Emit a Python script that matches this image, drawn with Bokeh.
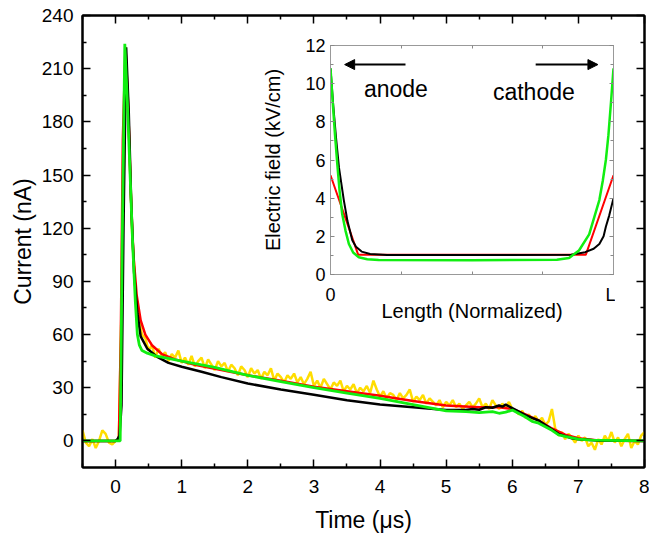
import numpy as np
from bokeh.plotting import figure
from bokeh.models import (Range1d, LinearAxis, FixedTicker, Arrow, NormalHead, Label,
                          CustomJSTickFormatter)
from bokeh.layouts import column
from bokeh.embed import file_html
from bokeh.resources import INLINE

FONT = "Liberation Sans"

# ---------------- main chart data (time in µs, current in nA) ----------------
yellow_y = [
    6, -1, -3, 1, -4, 0, 6, 4, -1, -2, 0,
    1, 95, 212, 178, 118, 86, 69, 60, 58, 51, 54, 47, 52, 48, 50, 45, 49, 47, 51, 44,
    47, 43, 48, 42, 45, 47, 41, 46, 43, 40, 45, 42, 44, 39, 43, 41, 37, 42, 40, 36,
    41, 38, 40, 35, 39, 37, 41, 34, 38, 36, 33, 37, 35, 38, 33, 36, 32, 35, 39, 31,
    34, 30, 35, 32, 29, 33, 31, 34, 28, 31, 29, 32, 27, 30, 28, 31, 27, 34, 29, 25,
    28, 24, 27, 26, 23, 27, 24, 26, 29, 22, 25, 23, 26, 21, 24, 22, 20, 23, 19, 22,
    20, 23, 19, 21, 18, 20, 22, 19, 21, 24, 19, 21, 18, 23, 20, 18, 21, 19, 22, 18,
    17, 15, 17, 13, 15, 12, 14, 11, 13, 9, 11, 18, 7, 3, 5, 1, 4, 2, -1, 3,
    0, 2, -3, -1, -5, 1, -2, 3, 0, 5, -1, 2, -3, 1, 4, -4, 0, -2, 3, 5,
]
yellow_t = list(np.round(np.linspace(-0.5, 8.0, len(yellow_y)), 3))

red_t = [-0.5, 0.0, 0.05, 0.08, 0.11, 0.15, 0.19, 0.23, 0.27, 0.32, 0.38, 0.45, 0.55,
         0.7, 0.9, 1.2, 1.6, 2.0, 2.5, 3.0, 3.5, 4.0, 4.5, 5.0, 5.5, 5.8, 6.0, 6.2,
         6.4, 6.6, 6.8, 7.0, 7.3, 8.0]
red_y = [0, 0, 1, 60, 170, 222, 190, 140, 105, 82, 68, 60, 54,
         49, 46, 43, 40, 37, 34, 30.5, 28, 25.5, 22.5, 20, 19, 19, 18, 15,
         11.5, 7, 3.5, 1.5, 0.3, 0]

black_t = [-0.5, 0.0, 0.03, 0.06, 0.09, 0.12, 0.16, 0.2, 0.24, 0.28, 0.33, 0.38, 0.48,
           0.63, 0.8, 1.0, 1.3, 1.6, 2.0, 2.5, 3.0, 3.5, 4.0, 4.5, 5.0, 5.3, 5.4, 5.5,
           5.6, 5.7, 5.8, 5.85, 5.9, 6.0, 6.1, 6.2, 6.3, 6.4, 6.5, 6.7, 6.9, 7.0, 7.3, 8.0]
black_y = [0, 0, 1, 3, 20, 120, 222, 185, 130, 95, 72, 59, 52,
           47.4, 44, 41.8, 39, 36, 32.4, 29, 26, 23, 20.5, 19, 17.5, 17.5, 18, 17.6,
           19, 18.7, 20, 19.3, 20.5, 18.5, 16.5, 14.5, 13, 11.5, 9, 4, 1.5, 1, 0.3, 0]

green_t = [-0.5, 0.0, 0.07, 0.1, 0.14, 0.18, 0.22, 0.26, 0.3, 0.33, 0.36, 0.4, 0.48,
           0.6, 0.8, 1.0, 1.5, 2.0, 2.5, 3.0, 3.5, 4.0, 4.5, 5.0, 5.3, 5.5, 5.7, 5.8,
           5.9, 6.0, 6.1, 6.2, 6.3, 6.4, 6.5, 6.6, 6.7, 6.8, 7.0, 7.2, 8.0]
green_y = [0, 0, 0, 110, 224, 190, 150, 110, 78, 60, 54, 51, 49.5,
           48, 46.5, 45, 41.5, 37, 33.5, 30, 27, 24, 20.5, 17, 16.5, 16, 16.5, 15.6,
           16.2, 17.4, 15.5, 13.5, 11, 10, 8, 6, 3.4, 2.5, 1, 0.4, 0]

x_major = [0, 1, 2, 3, 4, 5, 6, 7, 8]
x_minor = [-0.5, 0.5, 1.5, 2.5, 3.5, 4.5, 5.5, 6.5, 7.5]
y_major = [0, 30, 60, 90, 120, 150, 180, 210, 240]
y_minor = [15, 45, 75, 105, 135, 165, 195, 225]

# ---------------- inset data (normalized length, field in kV/cm) ----------------
inset_red_x = [0, 0.098, 0.902, 1.0]
inset_red_y = [5.2, 1.03, 1.03, 5.2]

inset_black_x = [0, 0.01, 0.02, 0.03, 0.047, 0.06, 0.077, 0.09, 0.11, 0.14, 0.2, 0.5,
                 0.85, 0.9, 0.93, 0.95, 0.965, 0.973, 0.985, 1.0]
inset_black_y = [10.8, 8.8, 7.1, 5.6, 3.9, 2.8, 1.8, 1.45, 1.2, 1.07, 1.02, 1.02,
                 1.03, 1.17, 1.35, 1.6, 2.0, 2.5, 3.1, 4.0]

inset_green_x = [0, 0.008, 0.016, 0.024, 0.032, 0.041, 0.053, 0.065, 0.08, 0.1, 0.13, 0.17,
                 0.5, 0.8, 0.843, 0.878, 0.914, 0.95, 0.962, 0.973, 0.982, 0.991, 1.0]
inset_green_y = [10.8, 9.0, 7.3, 5.8, 4.4, 3.2, 2.3, 1.6, 1.15, 0.9, 0.8, 0.76,
                 0.75, 0.77, 0.87, 1.26, 2.1, 3.9, 4.9, 6.0, 7.3, 9.0, 10.8]

inset_y_major = [0, 2, 4, 6, 8, 10, 12]
inset_y_minor = [1, 3, 5, 7, 9, 11]

anode_arrow = dict(x_start=0.265, x_end=0.05, y=11.0)
cathode_arrow = dict(x_start=0.725, x_end=0.945, y=11.0)
anode_text = dict(x=0.118, y=9.73, text="anode")
cathode_text = dict(x=0.574, y=9.57, text="cathode")

BLANK = CustomJSTickFormatter(code="return ''")

# ---------------- main figure ----------------
p = figure(frame_width=562, frame_height=452,
           min_border_left=82, min_border_right=5, min_border_top=15, min_border_bottom=72,
           x_range=Range1d(-0.5, 8), y_range=Range1d(-15, 240),
           output_backend="svg", toolbar_location=None)
p.grid.visible = False
p.outline_line_color = "black"
p.outline_line_width = 2
p.background_fill_color = "white"

def style_axis(ax, labels=True):
    ax.axis_line_width = 2
    ax.axis_line_color = "black"
    ax.major_tick_in = 8
    ax.major_tick_out = 0
    ax.minor_tick_in = 4
    ax.minor_tick_out = 0
    ax.major_tick_line_width = 1.5
    ax.minor_tick_line_width = 1.5
    ax.major_tick_line_color = "black"
    ax.minor_tick_line_color = "black"
    if labels:
        ax.major_label_text_font = FONT
        ax.major_label_text_font_size = "19px"
        ax.major_label_text_color = "black"
        ax.axis_label_text_font = FONT
        ax.axis_label_text_font_size = "23px"
        ax.axis_label_text_font_style = "normal"
        ax.axis_label_text_color = "black"
    else:
        ax.formatter = BLANK
        ax.major_label_text_font_size = "1px"
        ax.major_label_standoff = 0

p.xaxis.ticker = FixedTicker(ticks=x_major, minor_ticks=x_minor)
p.yaxis.ticker = FixedTicker(ticks=y_major, minor_ticks=y_minor)
p.xaxis.axis_label = "Time (\u03bcs)"
p.yaxis.axis_label = "Current (nA)"
style_axis(p.xaxis[0])
style_axis(p.yaxis[0])
p.xaxis.major_label_standoff = 12
p.xaxis.axis_label_standoff = 11
p.yaxis.major_label_standoff = 9
p.yaxis.axis_label_standoff = 3

top_ax = LinearAxis(ticker=FixedTicker(ticks=x_major, minor_ticks=x_minor))
right_ax = LinearAxis(ticker=FixedTicker(ticks=y_major, minor_ticks=y_minor))
style_axis(top_ax, labels=False)
style_axis(right_ax, labels=False)
p.add_layout(top_ax, "above")
p.add_layout(right_ax, "right")

p.line(yellow_t, yellow_y, line_color="#FFDD00", line_width=2.5)
p.line(red_t, red_y, line_color="#FF0000", line_width=2.5)
p.line(black_t, black_y, line_color="black", line_width=2.5)
p.line(green_t, green_y, line_color="#11EE11", line_width=2.8)

# ---------------- inset figure ----------------
ins = figure(frame_width=283, frame_height=229,
             min_border_left=80, min_border_right=4, min_border_top=14, min_border_bottom=48,
             x_range=Range1d(0, 1), y_range=Range1d(0, 12),
             output_backend="svg", toolbar_location=None)
ins.grid.visible = False
ins.outline_line_color = "#999999"
ins.outline_line_width = 1
ins.border_fill_alpha = 0
ins.background_fill_color = "white"

def style_inset_axis(ax, labels=True):
    ax.axis_line_color = "#999999"
    ax.axis_line_width = 1
    ax.major_tick_in = 4
    ax.major_tick_out = 0
    ax.minor_tick_in = 3
    ax.minor_tick_out = 0
    ax.major_tick_line_color = "#888888"
    ax.minor_tick_line_color = "#888888"
    if labels:
        ax.major_label_text_font = FONT
        ax.major_label_text_font_size = "18px"
        ax.major_label_text_color = "black"
        ax.axis_label_text_font = FONT
        ax.axis_label_text_font_size = "20px"
        ax.axis_label_text_font_style = "normal"
        ax.axis_label_text_color = "black"
    else:
        ax.formatter = BLANK
        ax.major_label_text_font_size = "1px"
        ax.major_label_standoff = 0

ins.xaxis.ticker = FixedTicker(ticks=[0, 1], minor_ticks=[0.25, 0.5, 0.75])
ins.xaxis.major_label_overrides = {0: "0", 1: "L"}
ins.yaxis.ticker = FixedTicker(ticks=inset_y_major, minor_ticks=inset_y_minor)
ins.xaxis.axis_label = "Length (Normalized)"
ins.yaxis.axis_label = "Electric field (kV/cm)"
style_inset_axis(ins.xaxis[0])
style_inset_axis(ins.yaxis[0])
ins.xaxis.major_label_standoff = 10
ins.xaxis.axis_label_standoff = -8
ins.yaxis.major_label_standoff = 5
ins.yaxis.axis_label_standoff = 18

itop = LinearAxis(ticker=FixedTicker(ticks=[0, 1], minor_ticks=[0.25, 0.5, 0.75]))
iright = LinearAxis(ticker=FixedTicker(ticks=inset_y_major, minor_ticks=inset_y_minor))
style_inset_axis(itop, labels=False)
style_inset_axis(iright, labels=False)
ins.add_layout(itop, "above")
ins.add_layout(iright, "right")

ins.line(inset_red_x, inset_red_y, line_color="#FF0000", line_width=2)
ins.line(inset_black_x, inset_black_y, line_color="black", line_width=2)
ins.line(inset_green_x, inset_green_y, line_color="#11EE11", line_width=2.5)

for a in (anode_arrow, cathode_arrow):
    ins.add_layout(Arrow(end=NormalHead(size=10, fill_color="black", line_color="black"),
                         x_start=a["x_start"], y_start=a["y"], x_end=a["x_end"], y_end=a["y"],
                         line_color="black", line_width=2))
for t in (anode_text, cathode_text):
    ins.add_layout(Label(x=t["x"], y=t["y"], text=t["text"], text_font=FONT,
                         text_font_size="23px", text_color="black",
                         text_baseline="alphabetic"))

ins.styles = {"position": "absolute", "left": "248px", "top": "31px", "z-index": "10"}

root = column(p, ins, styles={"position": "relative"})

open("out.html", "w").write(file_html(root, INLINE))
